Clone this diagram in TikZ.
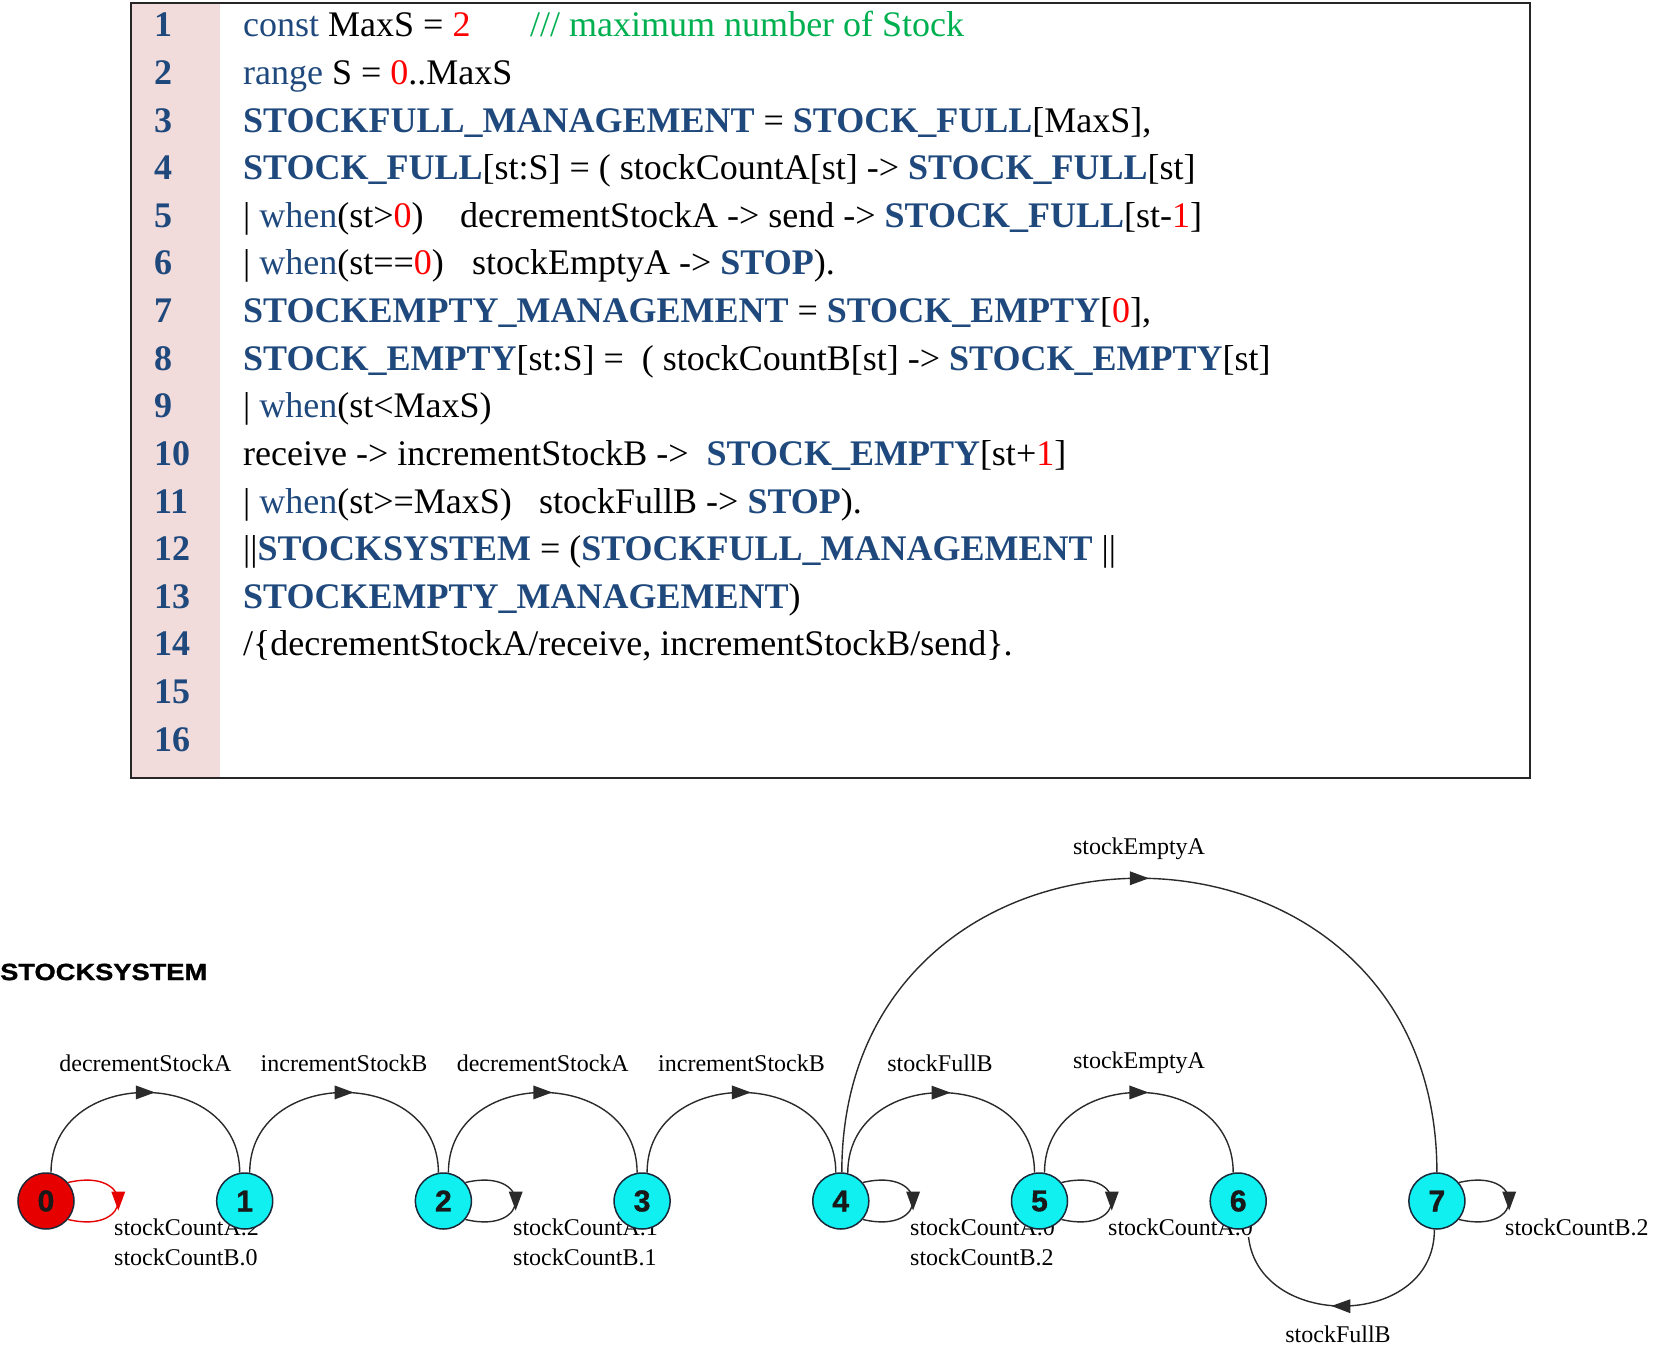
\documentclass[tikz,border=0pt]{standalone}
\usepackage{fontspec}
\usepackage{graphicx}
\setmainfont{Liberation Serif}
\newfontfamily\sansbold[BoldFeatures={FakeBold=1.2}]{Liberation Sans}
\usetikzlibrary{decorations.markings}
\pgfdeclarelayer{edgelayer}
\pgfdeclarelayer{labellayer}
\pgfsetlayers{edgelayer,labellayer,main}
\definecolor{kwblue}{HTML}{1F497D}
\definecolor{numred}{HTML}{FF0000}
\definecolor{cmtgreen}{HTML}{00B050}
\definecolor{lnpink}{HTML}{F2DCDB}
\definecolor{statecyan}{HTML}{10F0F0}
\definecolor{statered}{HTML}{E60000}
\definecolor{edgegray}{HTML}{2A2A2A}
\definecolor{nodeborder}{HTML}{1A2838}
\newcommand\kwd[1]{\textcolor{kwblue}{#1}}
\newcommand\pname[1]{\textcolor{kwblue}{\bfseries #1}}
\newcommand\rnum[1]{\textcolor{numred}{#1}}
\begin{document}
\begin{tikzpicture}[x=1pt,y=-1pt,
  code/.style={anchor=base west, inner sep=0pt, font=\fontsize{36}{40}\selectfont},
  lineno/.style={anchor=base west, inner sep=0pt, font=\fontsize{36}{40}\selectfont\bfseries, text=kwblue},
  state/.style={circle, draw=nodeborder, line width=1.5pt, minimum size=56pt, inner sep=0pt, fill=statecyan, text=black!90, font=\sansbold\fontsize{30}{32}\selectfont\bfseries},
  lbl/.style={inner sep=1pt, font=\fontsize{24}{26}\selectfont, fill=white},
  trans/.style={draw=#1, line width=1.4pt, postaction={decorate},
    decoration={markings, mark=at position 0.5 with {\fill[#1] (-9.5pt,-7pt) -- (9.5pt,0pt) -- (-9.5pt,7pt) -- cycle;}}},
  trans/.default=edgegray,
]
\useasboundingbox (0,0) rectangle (1655,1348);

% ---------- code listing ----------
\fill[lnpink] (131,3) rectangle (220,778);
\draw[line width=2pt, black!85] (131,3) rectangle (1530,778);

\foreach \i in {1,...,16} {
  \node[lineno] (ln\i) at (154, {37+47.6*(\i-1)}) {\i};
}

\node[code] (c1) at (243,37) {\kwd{const} MaxS = \rnum{2}};
\node[code, text=cmtgreen] (c1b) at (530,37) {/// maximum number of Stock};
\node[code] (c2) at (243,84.6) {\kwd{range} S = \rnum{0}..MaxS};
\node[code] (c3) at (243,132.2) {\pname{STOCKFULL\_MANAGEMENT} = \pname{STOCK\_FULL}[MaxS],};
\node[code] (c4) at (243,179.8) {\pname{STOCK\_FULL}[st:S] = ( stockCountA[st] -> \pname{STOCK\_FULL}[st]};
\node[code] (c5) at (243,227.4) {| \kwd{when}(st>\rnum{0})};
\node[code] (c5b) at (460,227.4) {decrementStockA -> send -> \pname{STOCK\_FULL}[st-\rnum{1}]};
\node[code] (c6) at (243,275) {| \kwd{when}(st==\rnum{0})};
\node[code] (c6b) at (472,275) {stockEmptyA -> \pname{STOP}).};
\node[code] (c7) at (243,322.6) {\pname{STOCKEMPTY\_MANAGEMENT} = \pname{STOCK\_EMPTY}[\rnum{0}],};
\node[code] (c8) at (243,370.2) {\pname{STOCK\_EMPTY}[st:S] =\ \ ( stockCountB[st] -> \pname{STOCK\_EMPTY}[st]};
\node[code] (c9) at (243,417.8) {| \kwd{when}(st<MaxS)};
\node[code] (c10) at (243,465.4) {receive -> incrementStockB ->\ \ \pname{STOCK\_EMPTY}[st+\rnum{1}]};
\node[code] (c11) at (243,513) {| \kwd{when}(st>=MaxS)};
\node[code] (c11b) at (539,513) {stockFullB -> \pname{STOP}).};
\node[code] (c12) at (243,560.6) {||\pname{STOCKSYSTEM} = (\pname{STOCKFULL\_MANAGEMENT} ||};
\node[code] (c13) at (243,608.2) {\pname{STOCKEMPTY\_MANAGEMENT})};
\node[code] (c14) at (243,655.8) {/\{decrementStockA/receive, incrementStockB/send\}.};

% ---------- LTS ----------
\node[anchor=west, inner sep=0pt] (title) at (0,972)
  {\scalebox{1.16}[1]{\sansbold\fontsize{23.5}{26}\selectfont\bfseries STOCKSYSTEM}};

\node[state, fill=statered] (s0) at (46,1201) {0};
\node[state] (s1) at (244.7,1201) {1};
\node[state] (s2) at (443.4,1201) {2};
\node[state] (s3) at (642.1,1201) {3};
\node[state] (s4) at (840.8,1201) {4};
\node[state] (s5) at (1039.5,1201) {5};
\node[state] (s6) at (1238.2,1201) {6};
\node[state] (s7) at (1436.9,1201) {7};

\begin{pgfonlayer}{edgelayer}
\draw[trans] (s0.80) .. controls +(0,-107) and +(0,-107) .. (s1.100);
\draw[trans] (s1.80) .. controls +(0,-107) and +(0,-107) .. (s2.100);
\draw[trans] (s2.80) .. controls +(0,-107) and +(0,-107) .. (s3.100);
\draw[trans] (s3.80) .. controls +(0,-107) and +(0,-107) .. (s4.100);
\draw[trans] (s4.76) .. controls +(0,-107) and +(0,-107) .. (s5.100);
\draw[trans] (s5.80) .. controls +(0,-107) and +(0,-107) .. (s6.100);
\draw[trans] (s4.88) .. controls +(0,-392) and +(0,-392) .. (s7.90);
\draw[trans] (s7.-95) .. controls +(0,103) and +(0,103) .. (s6.-70);
\draw[trans=statered] (s0.40) .. controls +(67,-16) and +(67,16) .. (s0.-40);
\draw[trans] (s2.40) .. controls +(67,-16) and +(67,16) .. (s2.-40);
\draw[trans] (s4.40) .. controls +(67,-16) and +(67,16) .. (s4.-40);
\draw[trans] (s5.40) .. controls +(67,-16) and +(67,16) .. (s5.-40);
\draw[trans] (s7.40) .. controls +(67,-16) and +(67,16) .. (s7.-40);
\end{pgfonlayer}

\begin{pgfonlayer}{labellayer}
\node[lbl] (t01) at (145.4,1063) {decrementStockA};
\node[lbl] (t12) at (344,1063) {incrementStockB};
\node[lbl] (t23) at (542.8,1063) {decrementStockA};
\node[lbl] (t34) at (741.5,1063) {incrementStockB};
\node[lbl] (t45) at (940,1063) {stockFullB};
\node[lbl] (t56) at (1139,1063) {stockEmptyA};
\node[lbl] (t47) at (1139,849) {stockEmptyA};
\node[lbl] (t76) at (1338,1334) {stockFullB};
\node[lbl, anchor=west] (l0a) at (113,1227.5) {stockCountA.2};
\node[lbl, anchor=west] (l0b) at (113,1257) {stockCountB.0};
\node[lbl, anchor=west] (l2a) at (512,1227.5) {stockCountA.1};
\node[lbl, anchor=west] (l2b) at (512,1257) {stockCountB.1};
\node[lbl, anchor=west] (l4a) at (909,1227.5) {stockCountA.0};
\node[lbl, anchor=west] (l4b) at (909,1257) {stockCountB.2};
\node[lbl, anchor=west] (l5a) at (1107,1227.5) {stockCountA.0};
\node[lbl, anchor=west] (l7a) at (1504,1227.5) {stockCountB.2};
\end{pgfonlayer}
\end{tikzpicture}
\end{document}
